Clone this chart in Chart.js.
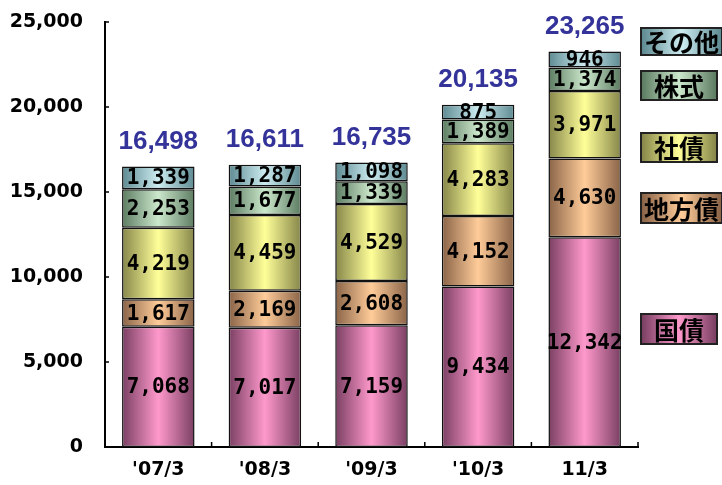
<!DOCTYPE html>
<html>
<head>
<meta charset="utf-8">
<script src="https://cdn.jsdelivr.net/npm/chart.js@4.4.1/dist/chart.umd.min.js"></script>
<style>
  body { margin: 0; background: #fff; }
  #wrap { position: relative; width: 722px; height: 485px; overflow: hidden; }
  .lg { position: absolute; left: 640px; box-sizing: border-box; border: 2px solid #222;
        font: bold 25px "Noto Sans CJK JP"; color: #000; white-space: nowrap; }
</style>
</head>
<body>
<div id="wrap">
  <canvas id="chart" width="722" height="485"></canvas>
</div>
<script>
// data
const labels = ["'07/3", "'08/3", "'09/3", "'10/3", "11/3"];
const kokusai = [7068, 7017, 7159, 9434, 12342];   // 国債
const chihousai = [1617, 2169, 2608, 4152, 4630];  // 地方債
const shasai = [4219, 4459, 4529, 4283, 3971];     // 社債
const kabushiki = [2253, 1677, 1339, 1389, 1374];  // 株式
const sonota = [1339, 1287, 1098, 875, 946];       // その他
const totals = [16498, 16611, 16735, 20135, 23265];
const seriesNames = ['国債', '地方債', '社債', '株式', 'その他'];

// colours: [edge, centre]
const shades = [
    ['#7a3f62', '#ff99cc'],
    ['#8a6448', '#ffcc99'],
    ['#86864a', '#ffff99'],
    ['#5c7c62', '#cce8cc'],
    ['#5e8a92', '#ccecf0']
];
const barPct = 0.68;

function barFill(k) {
    return function(c) {
        const ch = c.chart;
        const xs = ch.scales.x;
        if (!xs || !ch.chartArea) return shades[k][1];
        const cx = xs.getPixelForValue(c.dataIndex);
        const half = xs.width / labels.length * barPct / 2;
        const g = ch.ctx.createLinearGradient(cx - half, 0, cx + half, 0);
        g.addColorStop(0, shades[k][0]);
        g.addColorStop(0.5, shades[k][1]);
        g.addColorStop(1, shades[k][0]);
        return g;
    };
}

const series = [kokusai, chihousai, shasai, kabushiki, sonota];
const datasets = series.map((vals, k) => ({
    label: seriesNames[k],
    data: vals,
    backgroundColor: barFill(k),
    borderColor: '#111',
    borderWidth: 1.5,
    borderSkipped: false
}));

// numbers in the segments and totals above bars
const valueLabels = {
    id: 'valueLabels',
    afterDatasetsDraw(chart) {
        const ctx = chart.ctx;
        ctx.save();
        ctx.textAlign = 'center';
        ctx.textBaseline = 'middle';
        ctx.fillStyle = '#000';
        ctx.font = 'bold 21px "DejaVu Sans Mono"';
        chart.data.datasets.forEach((ds, d) => {
            chart.getDatasetMeta(d).data.forEach((el, i) => {
                const p = el.getProps(['x', 'y', 'base'], true);
                ctx.fillText(ds.data[i].toLocaleString('en-US'), p.x, (p.y + p.base) / 2 + 1);
            });
        });
        ctx.font = 'bold 26px "Liberation Sans"';
        ctx.fillStyle = '#333399';
        ctx.textBaseline = 'bottom';
        const xs = chart.scales.x, ys = chart.scales.y;
        totals.forEach((t, i) => {
            ctx.fillText(t.toLocaleString('en-US'), xs.getPixelForValue(i), ys.getPixelForValue(t) - 12);
        });
        ctx.restore();
    }
};

// small tick marks pointing into the plot
const innerTicks = {
    id: 'innerTicks',
    afterDraw(chart) {
        const ctx = chart.ctx;
        const xs = chart.scales.x, ys = chart.scales.y;
        const area = chart.chartArea;
        ctx.save();
        ctx.strokeStyle = '#000';
        ctx.lineWidth = 1.5;
        ctx.beginPath();
        ys.ticks.forEach(t => {
            if (t.value === 0) return;
            const y = ys.getPixelForValue(t.value);
            ctx.moveTo(area.left, y);
            ctx.lineTo(area.left + 4, y);
        });
        for (let i = 1; i <= labels.length; i++) {
            const x = (xs.getPixelForValue(i - 1) + xs.getPixelForValue(i)) / 2;
            ctx.moveTo(x, area.bottom);
            ctx.lineTo(x, area.bottom - 5);
        }
        ctx.stroke();
        ctx.restore();
    }
};

new Chart(document.getElementById('chart'), {
    type: 'bar',
    data: { labels: labels, datasets: datasets },
    options: {
        responsive: false,
        animation: false,
        layout: { padding: { top: 22, right: 84, bottom: 0, left: 0 } },
        datasets: { bar: { categoryPercentage: 1, barPercentage: barPct } },
        plugins: { legend: { display: false }, tooltip: { enabled: false } },
        scales: {
            x: {
                stacked: true,
                grid: { display: false, drawTicks: false },
                border: { color: '#000', width: 2 },
                ticks: { color: '#000', padding: 12, font: { family: 'DejaVu Sans', weight: 'bold', size: 19 } },
                afterFit(s) { s.height = 38; s.paddingLeft = 0; s.paddingRight = 0; }
            },
            y: {
                stacked: true,
                min: 0,
                max: 25000,
                grid: { display: false, drawTicks: false },
                border: { color: '#000', width: 2 },
                ticks: {
                    stepSize: 5000,
                    color: '#000',
                    padding: 22,
                    font: { family: 'DejaVu Sans', weight: 'bold', size: 19 },
                    callback: v => v.toLocaleString('en-US')
                },
                afterFit(s) { s.width = 105; s.paddingTop = 0; s.paddingBottom = 0; }
            }
        }
    },
    plugins: [valueLabels, innerTicks]
});

// legend boxes on the right
const legendTops = [313, 192, 132, 70, 27];
const legendHeights = [32, 32, 31, 31, 29];
const legendPad = ['12px', '2px', '12px', '12px', '2px'];
const wrap = document.getElementById('wrap');
seriesNames.forEach((name, k) => {
    const box = document.createElement('div');
    box.className = 'lg';
    box.textContent = name;
    box.style.top = legendTops[k] + 'px';
    box.style.height = legendHeights[k] + 'px';
    box.style.lineHeight = (legendHeights[k] - 4) + 'px';
    box.style.padding = '0 ' + legendPad[k];
    box.style.background = 'linear-gradient(to right, ' + shades[k][0] + ', ' + shades[k][1] + ' 50%, ' + shades[k][0] + ')';
    wrap.appendChild(box);
});
</script>
</body>
</html>
